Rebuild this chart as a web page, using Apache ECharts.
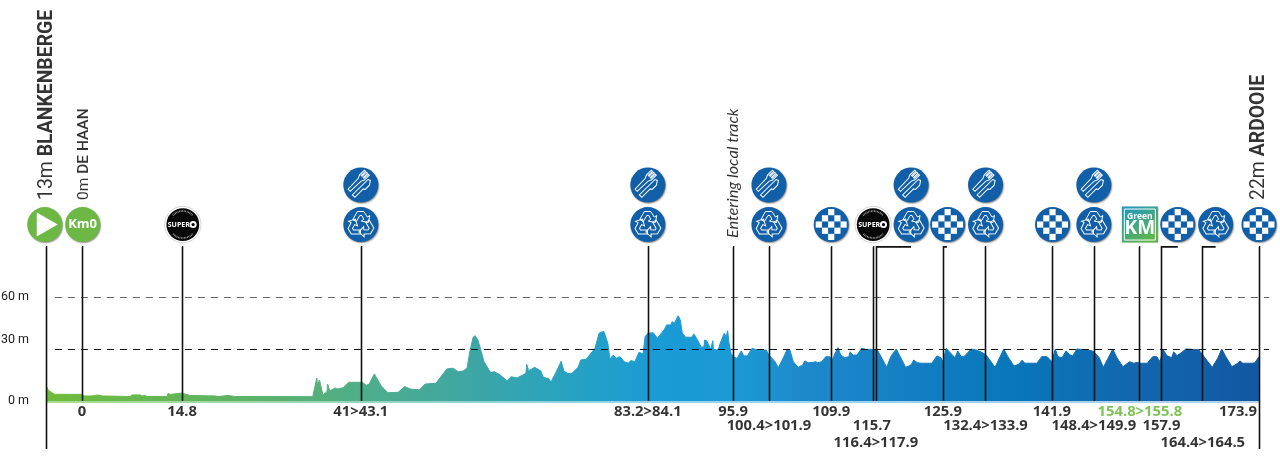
<!DOCTYPE html>
<html><head><meta charset="utf-8">
<style>html,body{margin:0;padding:0;background:#fff}#c{width:1280px;height:462px}</style>
<script src="https://cdn.jsdelivr.net/npm/echarts@6/dist/echarts.min.js"></script>
</head><body><div id="c"></div>
<script>
// Elevation profile (distance along the drawn axis in km, height in m)
const profileKm = [-5.3,-5.0,-4.1,0,0.3,1.5,2.4,3.0,7.1,7.4,8.6,8.9,9.3,9.6,12.6,12.7,13.1,14.8,15.2,16.0,19.7,20.1,21.6,22.6,34.1,34.7,34.8,35.1,35.6,35.9,36.2,36.3,36.5,36.6,37.4,37.8,38.6,39.4,41.4,42.0,42.4,43.2,43.4,44.2,44.8,45.2,46.7,47.7,48.6,49.9,50.7,52.3,53.9,54.8,55.6,56.3,56.9,57.3,57.8,58.1,58.5,59.0,59.4,60.4,60.9,61.8,62.8,63.4,64.3,65.6,65.7,65.9,66.0,66.9,67.8,68.1,68.6,68.9,69.3,70.0,70.8,71.2,71.8,72.4,73.3,73.7,74.5,75.2,75.8,76.4,77.1,77.7,78.0,78.5,78.9,79.5,80.1,80.7,81.1,81.7,82.3,82.9,83.2,83.6,84.4,85.0,85.1,86.0,86.4,87.0,87.2,87.5,88.1,88.4,88.7,89.2,90.1,90.4,90.9,91.5,91.9,92.0,92.3,92.9,93.2,93.3,94.0,94.3,94.9,95.2,95.4,95.6,95.9,96.2,96.8,97.4,97.8,98.3,99.0,99.9,101.1,101.5,102.4,102.9,103.7,104.2,104.6,105.1,105.8,106.5,106.8,107.3,108.0,108.4,108.7,109.3,109.9,110.5,110.8,111.3,111.7,112.1,112.7,113.3,113.5,113.9,114.5,115.2,115.8,116.7,117.6,118.2,118.9,119.5,120.3,120.9,121.7,122.5,122.9,123.4,124.0,125.6,126.3,126.9,127.2,127.7,128.2,129.0,129.4,129.9,130.3,131.4,132.1,132.8,133.6,134.9,136.2,136.8,137.7,138.4,138.9,139.3,141.1,141.8,142.6,143.3,143.8,144.2,144.8,145.4,146.0,146.4,147.0,148.0,149.2,149.5,150.3,150.9,151.6,152.3,152.9,153.8,154.8,155.4,155.9,156.3,157.4,158.2,158.8,159.3,159.7,160.3,161.0,161.3,161.8,162.5,163.1,165.0,165.6,167.0,167.8,168.4,169.0,169.9,170.8,171.1,171.5,173.0,173.3,173.9];
const profileM = [9.2,6.3,3.9,3.8,2.9,2.9,3.5,2.9,2.6,3.5,3.5,2.9,3.2,2.6,2.6,4.3,3.8,4.6,4.0,3.2,2.9,2.6,3.2,2.6,2.5,13.3,9.2,12.1,3.5,4.4,5.4,9.8,9.8,5.8,7.5,6.9,7.7,10.8,10.8,9.1,9.6,15.6,15.0,8.8,6.3,4.8,5.0,8.3,6.8,6.5,9.8,10.2,18.5,18.9,16.9,17.3,18.9,28.4,36.8,37.7,35.2,28.4,22.6,16.3,16.9,15.0,11.7,14.0,13.3,16.0,21.2,21.2,17.5,19.4,17.3,14.0,13.1,13.1,11.0,16.3,22.9,17.3,15.8,16.0,19.4,23.7,24.1,27.5,30.4,39.1,40.2,33.3,24.1,26.5,24.6,25.6,22.7,21.8,23.3,22.7,28.1,27.1,37.1,39.1,39.4,36.2,35.8,41.0,43.9,43.9,45.8,44.8,49.2,46.7,39.1,36.8,36.8,38.7,35.6,31.0,31.3,35.2,34.8,29.8,34.8,29.8,29.4,33.3,39.1,37.1,40.6,33.5,27.5,25.6,24.6,28.9,26.0,26.0,30.4,29.3,29.4,26.5,22.7,19.2,25.6,29.8,29.4,22.7,19.4,20.8,23.1,22.1,22.3,22.7,22.1,22.7,25.6,25.6,23.3,27.7,30.8,26.5,25.0,25.6,28.4,26.5,26.5,30.4,29.8,29.8,28.9,24.6,19.4,25.6,30.0,25.6,19.4,20.8,23.7,22.1,21.8,21.8,26.0,25.0,22.7,30.4,28.1,25.0,28.9,25.6,25.6,30.0,29.4,28.4,26.5,19.4,30.0,25.6,20.2,21.2,23.5,21.8,21.8,25.6,25.6,22.7,30.0,25.6,25.0,28.9,26.5,26.1,30.0,29.6,29.0,28.4,25.0,19.4,24.6,30.0,25.0,19.8,22.7,21.8,22.3,21.8,21.8,25.6,25.6,22.7,30.0,26.1,25.0,28.4,26.1,28.1,30.0,29.6,26.5,19.4,24.6,30.0,25.6,19.8,21.8,23.1,21.8,21.8,22.1,25.6];
const yTickLabels = {0:'0 m',30:'30 m',60:'60 m'};
const dashLevels = [60,30];
// Vertical marker lines: axis position, hook target (null = straight), lower end in m
const lineKm   = [-5.3,0,14.8,41.2,83.6,96.2,101.5,110.7,116.9,117.3,127.2,133.4,143.3,149.5,156.2,159.4,165.5,173.9];
const lineHook = [null,null,null,null,null,null,null,null,null,122.5,127.8,null,null,null,null,161.9,167.5,null];
const lineEnd  = [-27.7,0,0,0,0,0,0,0,0,0,0,0,0,0,0,0,0,-27.7];
// Icons
const iconKm   = [-5.5,0.1,14.9,41.2,41.2,83.6,83.6,101.5,101.5,110.7,116.9,122.5,122.5,127.9,133.5,133.5,143.4,149.5,149.5,156.3,161.9,167.5,173.9];
const iconRow  = [101.8,101.8,101.8,101.8,124.6,101.8,124.6,101.8,124.6,101.8,101.8,101.8,124.6,101.8,101.8,124.6,101.8,101.8,124.6,101.8,101.8,101.8,101.8];
const iconKind = ['play','km0','super','recycle','cutlery','recycle','cutlery','recycle','cutlery','checker','super','recycle','cutlery','checker','recycle','cutlery','checker','recycle','cutlery','green','checker','recycle','checker'];
// Distance labels under the profile
const kmText = ['0','14.8','41>43.1','83.2>84.1','95.9','100.4>101.9','109.9','115.7','116.4>117.9','125.9','132.4>133.9','141.9','148.4>149.9','154.8>155.8','157.9','164.4>164.5','173.9'];
const kmTextPos = [0,14.8,41.2,83.6,96.2,101.5,110.7,116.7,117.3,127.2,133.5,143.3,149.5,156.3,159.5,165.6,170.8];
const kmTextRow = [-6.3,-6.3,-6.3,-6.3,-6.3,-14.4,-6.3,-14.4,-24.2,-6.3,-14.4,-6.3,-14.4,-6.3,-14.4,-24.2,-6.3];
const kmTextGreen = '154.8>155.8';
// Place names
const placeName = ['BLANKENBERGE','DE HAAN','ARDOOIE'];
const placeHeight = ['13m','0m','22m'];
const placeKm = [-5.2,0.3,174.0];
const noteText = 'Entering local track';
const noteKm = 96.2;

const stops = [[0,'#6FBC3A'],[0.2,'#58B070'],[0.26,'#4FAE8A'],[0.35,'#3EA6A4'],[0.42,'#2AA3BE'],[0.5,'#1A9BD5'],[0.565,'#1B9AD6'],[0.62,'#1E8ACC'],[0.7,'#1580C4'],[0.8,'#0876B9'],[0.89,'#1268AF'],[1,'#1158A2']];
const lightStops = [[0,'#A8DC88'],[0.35,'#8FD3CE'],[0.5,'#8FD4F0'],[0.8,'#A3D0EC'],[1,'#B5D2EA']];
const G = echarts.graphic.LinearGradient;
const grad = s => new G(46,0,1259,0,s.map(a=>({offset:a[0],color:a[1]})),true);

const BLUE='#115FA9', W='#fff';
function poly(points,rot,lw){return {type:'polygon',shape:{points},rotation:rot||0,style:{fill:'none',stroke:W,lineWidth:lw||1}};}
function disc(r,fill,extra){return {type:'circle',shape:{cx:0,cy:0,r},style:Object.assign({fill,shadowColor:'rgba(60,50,40,.55)',shadowBlur:1.5,shadowOffsetX:.8,shadowOffsetY:1},extra||{})};}
const arrow=[[-8,-5],[-3.5,-13],[3,-13],[6.5,-7.5],[9,-9],[7.5,-2],[0.5,-3.5],[3,-5.3],[1,-9],[-1,-9],[-4.5,-3]];
function iconChildren(kind){
  if(kind==='play') return [disc(17.5,'#6DB844'),{type:'polygon',shape:{points:[[-8,-12],[13,0],[-8,12]]},style:{fill:W}}];
  if(kind==='km0') return [disc(17.5,'#6DB844'),{type:'text',style:{text:'Km0',x:0,y:0,fill:W,font:'bold 13px "Open Sans"',align:'center',verticalAlign:'middle'}}];
  if(kind==='super') return [
    {type:'circle',shape:{cx:0,cy:0,r:18.2},style:{fill:'#fff',stroke:'#bbb',lineWidth:.6}},
    {type:'circle',shape:{cx:0,cy:0,r:16.4},style:{fill:'#080808'}},
    {type:'arc',shape:{cx:0,cy:0,r:13.5,startAngle:-2.4,endAngle:-.75},style:{fill:'none',stroke:'#aaa',lineWidth:1.6,lineDash:[.8,.7]}},
    {type:'arc',shape:{cx:0,cy:0,r:13.5,startAngle:.75,endAngle:2.4},style:{fill:'none',stroke:'#aaa',lineWidth:1.6,lineDash:[.8,.7]}},
    {type:'text',style:{text:'SUPER',x:-4,y:.3,fill:W,font:'bold 7px "Open Sans"',align:'center',verticalAlign:'middle'}},
    {type:'circle',shape:{cx:10.3,cy:0,r:2.6},style:{fill:'none',stroke:W,lineWidth:1.9}}];
  if(kind==='recycle') return [disc(17.5,BLUE),poly(arrow,0),poly(arrow,2*Math.PI/3),poly(arrow,4*Math.PI/3)];
  if(kind==='cutlery') return [disc(17.5,BLUE),
    poly([[-6,12],[-3,12],[-2.5,-3],[-1,-6],[-1,-13],[-2.4,-13],[-2.4,-7],[-3.6,-7],[-3.6,-13],[-5.2,-13],[-5.2,-7],[-6.4,-7],[-6.4,-13],[-8,-13],[-8,-6],[-6.5,-3]],-Math.PI/4),
    poly([[1,13],[4.5,13],[4.5,1],[6.2,0],[6.2,-6],[3.5,-10],[1.2,-9]],-Math.PI/4)];
  if(kind==='checker'){
    const kids=[disc(17.5,BLUE)];
    const c=6.2;
    for(let i=-2;i<=2;i++)for(let j=-2;j<=2;j++){
      if(((i+j)&1)===0 && !(Math.abs(i)===2&&Math.abs(j)===2))
        kids.push({type:'rect',shape:{x:i*c-c/2,y:j*c-c/2,width:c,height:c},style:{fill:W}});
    }
    return kids;
  }
  if(kind==='green') return [
    {type:'rect',shape:{x:-18,y:-18,width:36,height:36},style:{fill:new G(0,0,.6,1,[{offset:0,color:'#1E97C8'},{offset:1,color:'#5DB54A'}]),shadowColor:'rgba(60,50,40,.5)',shadowBlur:1.5,shadowOffsetX:.8,shadowOffsetY:.8}},
    {type:'rect',shape:{x:-15.5,y:-15.5,width:31,height:31},style:{fill:'none',stroke:W,lineWidth:1}},
    {type:'text',style:{text:'Green',x:0,y:-8,fill:W,font:'bold 8.5px "Open Sans"',align:'center',verticalAlign:'middle'}},
    {type:'text',style:{text:'KM',x:0,y:4.5,fill:W,font:'bold 19px "Open Sans"',align:'center',verticalAlign:'middle'}}];
  return [];
}

const chart = echarts.init(document.getElementById('c'),null,{renderer:'canvas'});
const LABEL_FONT='"Open Sans"';
const NAME_FONT='Roboto';
chart.setOption({
  animation:false,
  backgroundColor:'#fff',
  grid:{left:40,right:10,top:37,bottom:9,outerBoundsMode:'none',containLabel:false},
  xAxis:{type:'value',min:-6.2,max:175.53,show:false},
  yAxis:{type:'value',min:-30,max:210,interval:30,
    axisLine:{show:false},axisTick:{show:false},splitLine:{show:false},
    axisLabel:{margin:11,color:'#222',
      formatter:v=>{const t=yTickLabels[v];if(!t)return '';return v===30?'{up|'+t+'}':'{n|'+t+'}';},
      rich:{n:{fontSize:12.5,fontFamily:'Roboto',color:'#222'},up:{fontSize:12.5,fontFamily:'Roboto',color:'#222',padding:[0,0,18,0]}}}},
  series:[
    {name:'Elevation',type:'line',data:profileKm.map((k,i)=>[k,profileM[i]]),symbol:'none',smooth:false,z:2,
      lineStyle:{width:1,color:grad(stops)},areaStyle:{color:grad(stops),opacity:1},
      markLine:{silent:true,symbol:'none',z:3,label:{show:false},
        data:dashLevels.map((lv,i)=>[{coord:[-4.0,lv],lineStyle:{type:[7,6],width:1.1,color:i===0?'#666':'#111'}},{coord:[175.4,lv]}])}},
    {name:'Base',type:'line',data:[[-5.3,-.6],[173.9,-.6]],symbol:'none',z:2,lineStyle:{width:2,color:grad(lightStops)}},
    {name:'Markers',type:'custom',z:5,silent:true,coordinateSystem:'cartesian2d',
      data:lineKm.map((k,i)=>[k,88.9,lineEnd[i],lineHook[i]==null?k:lineHook[i]]),
      renderItem:(p,api)=>{
        const top=api.coord([api.value(0),api.value(1)]),bot=api.coord([api.value(0),api.value(2)]),hook=api.coord([api.value(3),api.value(1)]);
        const st={stroke:'#111',lineWidth:1.6,fill:'none'};
        const x=Math.round(top[0])+.5;
        const pts=[[hook[0],top[1]],[x,top[1]],[x,bot[1]]];
        return {type:'polyline',shape:{points:pts},style:st};
      }},
    {name:'Icons',type:'custom',z:6,silent:true,coordinateSystem:'cartesian2d',
      data:iconKm.map((k,i)=>[k,iconRow[i]]),
      renderItem:(p,api)=>{
        const c=api.coord([api.value(0),api.value(1)]);
        return {type:'group',x:c[0],y:c[1],children:iconChildren(iconKind[p.dataIndex])};
      }},
    {name:'KmLabels',type:'scatter',z:7,symbolSize:0,silent:true,
      data:kmText.map((t,i)=>({value:[kmTextPos[i],kmTextRow[i]],name:t,label:t===kmTextGreen?{color:'#5DB52A'}:{}})),
      label:{show:true,position:'inside',formatter:p=>p.name,fontFamily:LABEL_FONT,fontWeight:'bold',fontSize:14.8,
        color:'#000',align:'center',verticalAlign:'middle'},
      labelLayout:{hideOverlap:false}},
    {name:'Places',type:'scatter',z:7,symbolSize:0,silent:true,
      data:placeName.map((t,i)=>({value:[placeKm[i],116],name:t})),
      label:{show:true,position:'inside',rotate:90,align:'left',verticalAlign:'middle',
        formatter:p=>p.dataIndex===1?'{s|'+placeHeight[1]+' }{sb|'+p.name+'}':'{h|'+placeHeight[p.dataIndex]+' }{b|'+p.name+'}',
        rich:{h:{fontFamily:NAME_FONT,fontSize:19.4,color:'#000'},b:{fontFamily:NAME_FONT,fontWeight:'bold',fontSize:19.4,color:'#000'},
              s:{fontFamily:NAME_FONT,fontSize:15.5,color:'#000'},sb:{fontFamily:NAME_FONT,fontWeight:500,fontSize:15.5,color:'#000'}}}},
    {name:'Note',type:'scatter',z:7,symbolSize:0,silent:true,
      data:[{value:[noteKm,94],name:noteText}],
      label:{show:true,position:'inside',rotate:90,align:'left',verticalAlign:'middle',formatter:p=>p.name,
        fontFamily:'Lato',fontStyle:'italic',fontSize:16.3,color:'#000'}}
  ]
});
</script></body></html>
